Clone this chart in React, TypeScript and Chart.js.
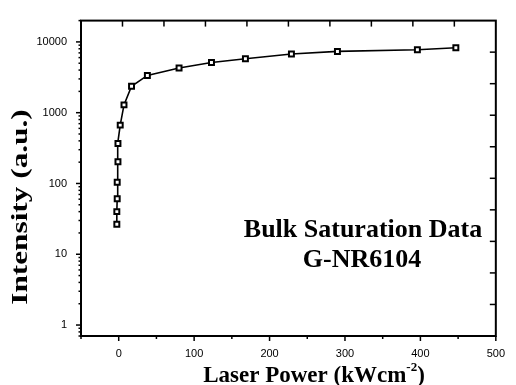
import { useEffect, useRef } from "react";
import { Chart, registerables } from "chart.js";

Chart.register(...registerables);

// Bulk saturation measurement, sample G-NR6104
const laserPower = [-2.5, -2.5, -2, -2, -1, -1, 2, 7, 17, 38, 80, 123, 168, 229, 290, 396, 447];
const intensity = [26.5, 40, 61, 104, 203, 368, 667, 1290, 2360, 3360, 4270, 5120, 5770, 6760, 7340, 7750, 8260];

const xTickValues = [0, 100, 200, 300, 400, 500];
const yTickValues = [1, 10, 100, 1000, 10000];

const X_MIN = -50;
const X_MAX = 500;
const Y_MIN = 0.7;
const Y_MAX = 20000;

const frameAndLabels = {
  id: "frameAndLabels",
  afterDraw(chart: any) {
    const { ctx, chartArea: a } = chart;
    const xs = chart.scales.x;
    const ys = chart.scales.y;
    ctx.save();
    ctx.strokeStyle = "#000";
    ctx.fillStyle = "#000";
    ctx.lineCap = "butt";

    const seg = (x1: number, y1: number, x2: number, y2: number) => {
      ctx.beginPath();
      ctx.moveTo(x1, y1);
      ctx.lineTo(x2, y2);
      ctx.stroke();
    };

    // bottom axis ticks: major every 100, minor every 50
    ctx.lineWidth = 1.5;
    for (let v = X_MIN; v <= X_MAX; v += 50) {
      const px = xs.getPixelForValue(v);
      seg(px, a.bottom, px, a.bottom + (v % 100 === 0 ? 5 : 3));
    }

    // left axis ticks: decades major, 2..9 minor
    for (let d = 0.1; d <= 10000; d *= 10) {
      for (let m = 1; m <= 9; m++) {
        const v = d * m;
        if (v < Y_MIN || v > Y_MAX) continue;
        const py = ys.getPixelForValue(v);
        seg(a.left, py, a.left - (m === 1 ? 5 : 2.5), py);
      }
    }

    // opposite axes: ten inward ticks each
    for (let i = 1; i < 10; i++) {
      const px = a.left + ((a.right - a.left) * i) / 10;
      seg(px, a.top, px, a.top + 6);
      const py = a.top + ((a.bottom - a.top) * i) / 10;
      seg(a.right, py, a.right - 6, py);
    }

    // frame
    ctx.lineWidth = 2;
    ctx.strokeRect(a.left, a.top, a.right - a.left, a.bottom - a.top);

    // x axis title with superscript
    ctx.textBaseline = "alphabetic";
    ctx.textAlign = "left";
    const main = "Laser Power (kWcm";
    const sup = "-2";
    const close = ")";
    ctx.font = 'bold 23px "Liberation Serif"';
    const wMain = ctx.measureText(main).width;
    const wClose = ctx.measureText(close).width;
    ctx.font = 'bold 13px "Liberation Serif"';
    const wSup = ctx.measureText(sup).width;
    const total = wMain + wSup + wClose;
    let tx = 314 - total / 2;
    const ty = 382;
    ctx.font = 'bold 23px "Liberation Serif"';
    ctx.fillText(main, tx, ty);
    tx += wMain;
    ctx.font = 'bold 13px "Liberation Serif"';
    ctx.fillText(sup, tx, ty - 11);
    tx += wSup;
    ctx.font = 'bold 23px "Liberation Serif"';
    ctx.fillText(close, tx, ty);

    // y axis title, stretched along its length
    ctx.save();
    ctx.translate(27, 207);
    ctx.rotate(-Math.PI / 2);
    ctx.scale(1.36, 1);
    ctx.textAlign = "center";
    ctx.font = 'bold 23px "Liberation Serif"';
    ctx.fillText("Intensity (a.u.)", 0, 0);
    ctx.restore();

    // annotation
    ctx.textAlign = "center";
    ctx.font = 'bold 26px "Liberation Serif"';
    ctx.fillText("Bulk Saturation Data", 363, 237);
    ctx.fillText("G-NR6104", 362, 267);

    ctx.restore();
  },
};

export default function App() {
  const canvasRef = useRef<HTMLCanvasElement | null>(null);

  useEffect(() => {
    if (!canvasRef.current) return;
    Chart.defaults.font.family = '"Liberation Sans", Arial, sans-serif';
    const chart = new Chart(canvasRef.current, {
      type: "line",
      data: {
        datasets: [
          {
            data: laserPower.map((x, i) => ({ x, y: intensity[i] })),
            borderColor: "#000",
            borderWidth: 1.6,
            pointStyle: "rect",
            pointRadius: 3.5,
            pointBorderWidth: 2,
            pointBackgroundColor: "#fff",
            pointBorderColor: "#000",
            tension: 0,
          },
        ],
      },
      options: {
        animation: false,
        responsive: false,
        events: [],
        layout: { padding: { top: 13, right: 12, left: 0, bottom: 0 } },
        plugins: { legend: { display: false }, tooltip: { enabled: false } },
        scales: {
          x: {
            type: "linear",
            min: X_MIN,
            max: X_MAX,
            afterBuildTicks: (s: any) => {
              s.ticks = xTickValues.map((value) => ({ value }));
            },
            afterFit: (s: any) => {
              s.height = 49;
            },
            grid: { display: false, drawTicks: false },
            border: { display: false },
            ticks: {
              color: "#000",
              font: { size: 11 },
              padding: 11,
              maxRotation: 0,
              callback: (v: any) => String(v),
            },
          },
          y: {
            type: "logarithmic",
            min: Y_MIN,
            max: Y_MAX,
            afterBuildTicks: (s: any) => {
              s.ticks = yTickValues.map((value) => ({ value }));
            },
            afterFit: (s: any) => {
              s.width = 81;
            },
            grid: { display: false, drawTicks: false },
            border: { display: false },
            ticks: {
              color: "#000",
              font: { size: 11 },
              padding: 14,
              callback: (v: any) => String(v),
            },
          },
        },
      },
      plugins: [frameAndLabels],
    });
    return () => chart.destroy();
  }, []);

  return (
    <div style={{ position: "absolute", left: 0, top: 0, width: 516, height: 385, background: "#fff" }}>
      <canvas ref={canvasRef} width={516} height={385} />
    </div>
  );
}
